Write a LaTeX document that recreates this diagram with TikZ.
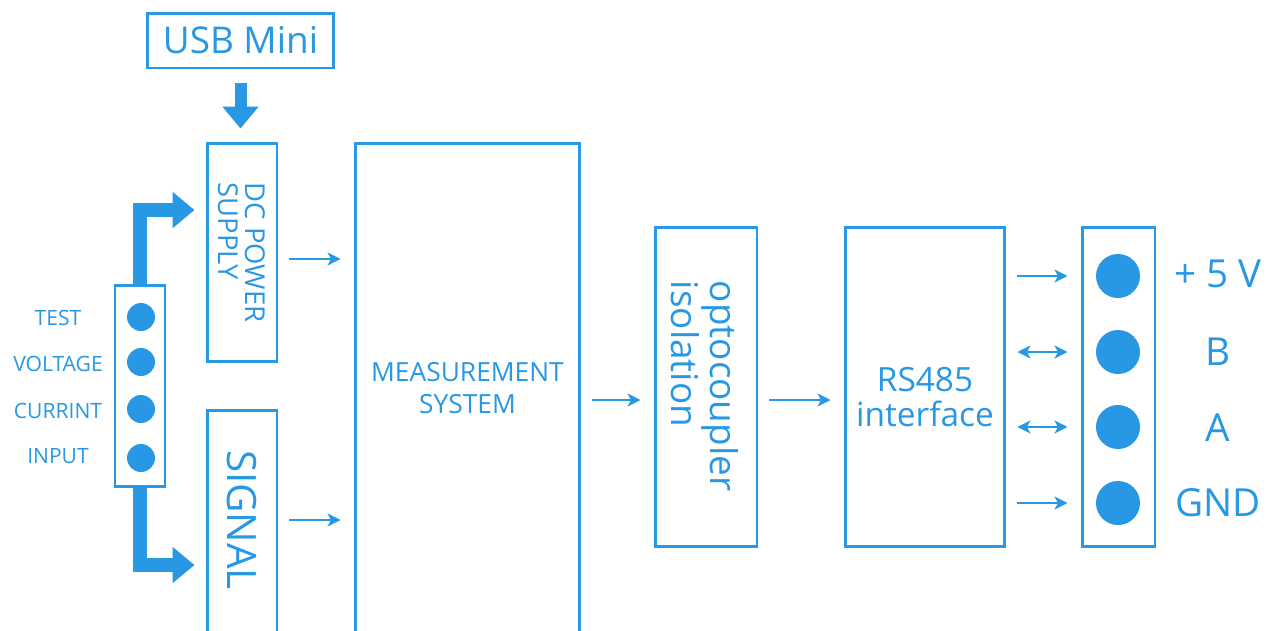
\documentclass[tikz,border=0pt]{standalone}
\usepackage{fontspec}
\setmainfont{Open Sans}
\usetikzlibrary{arrows.meta}
\definecolor{diagblue}{RGB}{40,152,228}

\begin{document}
\begin{tikzpicture}[x=0.02cm,y=-0.02cm]
        \tikzstyle{block}=[rectangle,draw=diagblue,line width=1.7pt,inner sep=0pt]
        \tikzstyle{blocktext}=[text=diagblue,inner sep=0pt,align=center]
        \tikzstyle{terminal}=[circle,fill=diagblue,inner sep=0pt]
        \tikzstyle{thinarrow}=[draw=diagblue,line width=1.3pt,>={Stealth[length=0.26cm,width=0.26cm,inset=0.07cm]},shorten <=0.22cm,shorten >=0.26cm]
        \tikzstyle{fatarrow}=[draw=diagblue,line width=0.28cm,-{Triangle[length=0.44cm,width=0.7cm]}]
          \clip (0,0) rectangle (1269,630);
          \fill[white] (0,0) rectangle (1269,630);
          \node (usb) at (240.5,40.5) [block,minimum width=3.74cm,minimum height=1.1cm,text=diagblue,font=\fontsize{21}{24}\selectfont] {USB Mini};
          \node (dc) at (242,252.5) [block,minimum width=1.4cm,minimum height=4.38cm] {};
          \node (dctext) at (dc) [blocktext,rotate=-90,align=left,font=\fontsize{15.6}{15.5}\selectfont] {DC POWER\\SUPPLY};
          \node (sig) at (242,525) [block,minimum width=1.4cm,minimum height=4.6cm] {};
          \node (sigtext) at (242,520) [blocktext,rotate=-90,font=\fontsize{23}{26}\selectfont] {SIGNAL};
          \node (meas) at (467.5,401.5) [block,minimum width=4.5cm,minimum height=10.34cm] {};
          \node (meastext) at (467.5,388) [blocktext,font=\fontsize{15}{18}\selectfont] {MEASUREMENT\\SYSTEM};
          \node (opto) at (706,387) [block,minimum width=2.04cm,minimum height=6.4cm] {};
          \node (optotext) at (705,386) [blocktext,rotate=-90,align=left,font=\fontsize{21}{20.5}\selectfont] {optocoupler\\isolation};
          \node (rs) at (925,387) [block,minimum width=3.2cm,minimum height=6.4cm] {};
          \node (rstext) at (925,397) [blocktext,font=\fontsize{19}{19.5}\selectfont] {RS485\\interface};
          \node (term) at (1118.5,387) [block,minimum width=1.46cm,minimum height=6.4cm] {};
          \node (r1) at (1118,276) [terminal,minimum size=0.88cm] {};
          \node (r2) at (1118,352) [terminal,minimum size=0.88cm] {};
          \node (r3) at (1118,427) [terminal,minimum size=0.88cm] {};
          \node (r4) at (1118,503) [terminal,minimum size=0.88cm] {};
          \node (v5) at (1218,274) [blocktext,font=\fontsize{22}{24}\selectfont] {+ 5 V};
          \node (lb) at (1218,352) [blocktext,font=\fontsize{22}{24}\selectfont] {B};
          \node (la) at (1218,428) [blocktext,font=\fontsize{22}{24}\selectfont] {A};
          \node (gnd) at (1218,503) [blocktext,font=\fontsize{22}{24}\selectfont] {GND};
          \node (conn) at (140,386) [block,minimum width=1cm,minimum height=4.04cm] {};
          \node (l1) at (141,317) [terminal,minimum size=0.56cm] {};
          \node (l2) at (141,362) [terminal,minimum size=0.56cm] {};
          \node (l3) at (141,409) [terminal,minimum size=0.56cm] {};
          \node (l4) at (141,458) [terminal,minimum size=0.56cm] {};
          \node (test) at (58,318) [blocktext,font=\fontsize{12}{14}\selectfont] {TEST};
          \node (volt) at (58,364) [blocktext,font=\fontsize{12}{14}\selectfont] {VOLTAGE};
          \node (curr) at (58,411) [blocktext,font=\fontsize{12}{14}\selectfont] {CURRINT};
          \node (inp) at (58,456) [blocktext,font=\fontsize{12}{14}\selectfont] {INPUT};
          \draw [fatarrow,line width=0.24cm,shorten <=0.28cm,shorten >=0.26cm] (usb.south) -- (usb.south |- dc.north);
          \draw [fatarrow,shorten >=0.22cm] (conn.north) |- (dc.west |- 0,210);
          \draw [fatarrow,shorten >=0.22cm] (conn.south) |- (sig.west |- 0,565);
          \draw [thinarrow,->] (dc.east |- 0,259) -- (meas.west |- 0,259);
          \draw [thinarrow,->] (sig.east |- 0,520) -- (meas.west |- 0,520);
          \draw [thinarrow,->] (meas.east |- 0,400) -- (opto.west |- 0,400);
          \draw [thinarrow,->] (opto.east |- 0,400) -- (rs.west |- 0,400);
          \draw [thinarrow,->] (rs.east |- r1) -- (term.west |- r1);
          \draw [thinarrow,<->] (rs.east |- r2) -- (term.west |- r2);
          \draw [thinarrow,<->] (rs.east |- r3) -- (term.west |- r3);
          \draw [thinarrow,->] (rs.east |- r4) -- (term.west |- r4);
      \end{tikzpicture}
\end{document}
